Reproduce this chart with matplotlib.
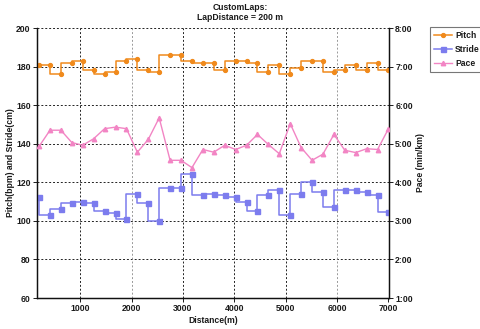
import matplotlib
matplotlib.use("Agg")
import matplotlib.pyplot as plt
from matplotlib.ticker import FixedLocator, FuncFormatter

plt.rcParams['font.family'] = ['Liberation Sans', 'DejaVu Sans']

# Lap end distances (m)
distance = [200, 413, 625, 838, 1050, 1263, 1475, 1688, 1900, 2113, 2325,
            2538, 2750, 2963, 3175, 3388, 3600, 3813, 4025, 4238, 4450, 4663,
            4875, 5088, 5300, 5513, 5725, 5938, 6150, 6363, 6575, 6788, 7000]

# Cadence per lap (steps/min)
pitch = [181, 181, 176, 182, 183, 178, 176, 177, 183, 184, 178,
         177, 186, 186, 183, 182, 182, 178, 183, 183, 182, 177,
         181, 176, 179, 183, 183, 177, 178, 181, 178, 182, 178]

# Stride length per lap (cm)
stride = [112.2, 102.9, 106.2, 109.1, 110.0, 109.1, 105.2, 104.3, 101.0, 114.0, 109.1,
          100.0, 116.9, 116.9, 124.1, 113.3, 113.8, 113.3, 112.2, 110.0, 105.2, 113.4,
          116.0, 103.1, 114.0, 120.0, 114.8, 107.1, 116.0, 116.0, 114.8, 113.4, 104.5]

# Pace per lap (min/km, decimal minutes)
pace = [4.93, 5.35, 5.35, 5.03, 4.96, 5.13, 5.39, 5.43, 5.39, 4.78, 5.11,
        5.67, 4.57, 4.57, 4.38, 4.85, 4.78, 4.96, 4.85, 4.96, 5.24, 4.98,
        4.74, 5.52, 4.90, 4.57, 4.73, 5.24, 4.83, 4.77, 4.87, 4.85, 5.39]

x_ticks = [1000, 2000, 3000, 4000, 5000, 6000, 7000]
left_ticks = [60, 80, 100, 120, 140, 160, 180, 200]
right_ticks = [1, 2, 3, 4, 5, 6, 7, 8]

c_pitch = '#F08A1C'
c_stride = '#7C7CEE'
c_pace = '#F285C4'
txt = '#1a1a1a'
fs = 6.2

fig = plt.figure(figsize=(4.8, 3.29), dpi=100)
ax = fig.add_axes([37 / 480, 1 - 298 / 329, 352 / 480, 270 / 329])
ax2 = ax.twinx()

ax.set_xlim(160, 7010)
ax.set_ylim(60, 200)
ax2.set_ylim(1, 8)

# grid
for v in left_ticks[1:]:
    ax.axhline(v, color='#222222', lw=0.7, ls=(0, (2, 2)), zorder=0)
for v in x_ticks[:-1]:
    col = '#999999' if v in (2000, 6000) else '#222222'
    ax.axvline(v, color=col, lw=0.7, ls=(0, (2, 2)), zorder=0)

l1, = ax.plot(distance, pitch, drawstyle='steps-pre', color=c_pitch, lw=1.1,
              marker='o', ms=2.8, mec=c_pitch, mfc=c_pitch, label='Pitch', zorder=3)
l2, = ax.plot(distance, stride, drawstyle='steps-pre', color=c_stride, lw=1.1,
              marker='s', ms=3.6, mec=c_stride, mfc=c_stride, label='Stride', zorder=3)
l3, = ax2.plot(distance, pace, color=c_pace, lw=1.0,
               marker='^', ms=3.2, mec=c_pace, mfc=c_pace, label='Pace', zorder=3)

ax.xaxis.set_major_locator(FixedLocator(x_ticks))
ax.yaxis.set_major_locator(FixedLocator(left_ticks))
ax2.yaxis.set_major_locator(FixedLocator(right_ticks))
ax2.yaxis.set_major_formatter(FuncFormatter(lambda v, p: f"{int(v)}:00"))

for a in (ax, ax2):
    a.tick_params(labelsize=fs, length=3, width=0.7, pad=1.5, colors=txt)
    for lab in a.get_xticklabels() + a.get_yticklabels():
        lab.set_fontweight('bold')
    for s in a.spines.values():
        s.set_linewidth(0.9)
        s.set_color('#111111')
ax2.spines['top'].set_visible(False)
ax.spines['top'].set_visible(False)

ax.set_xlabel('Distance(m)', fontsize=fs, fontweight='bold', color=txt, labelpad=2)
ax.set_ylabel('Pitch(bpm) and Stride(cm)', fontsize=fs, fontweight='bold', color=txt, labelpad=1)
ax2.set_ylabel('Pace (min/km)', fontsize=fs, fontweight='bold', color=txt,
               rotation=90, labelpad=2)

fig.text(0.5, 1 - 8 / 329, 'CustomLaps:', ha='center', va='center',
         fontsize=fs, fontweight='bold', color=txt)
fig.text(0.5, 1 - 18 / 329, 'LapDistance = 200 m', ha='center', va='center',
         fontsize=fs, fontweight='bold', color=txt)

leg = fig.legend(handles=[l1, l2, l3], loc='upper left',
                 bbox_to_anchor=(430 / 480, 1 - 27 / 329), fontsize=fs,
                 frameon=True, fancybox=False, handlelength=2.0,
                 handletextpad=0.4, borderpad=0.5, labelspacing=0.55,
                 borderaxespad=0)
leg.get_frame().set_edgecolor('#555555')
leg.get_frame().set_linewidth(0.8)
for t in leg.get_texts():
    t.set_fontweight('bold')
    t.set_color(txt)

fig.savefig('out.png', dpi=100)
